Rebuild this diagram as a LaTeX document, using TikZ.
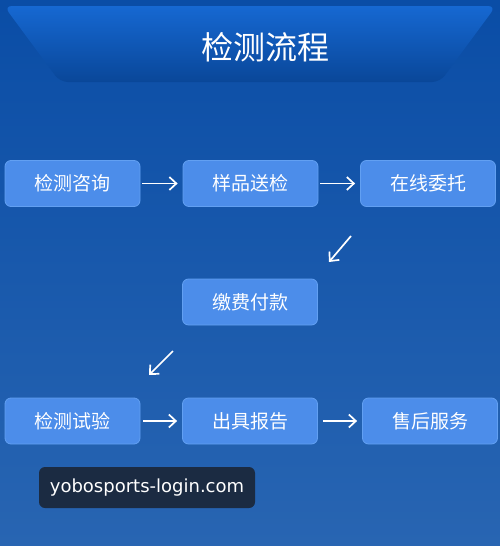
\documentclass[tikz,border=0pt]{standalone}
\usepackage{fontspec}
\setmainfont{Noto Sans CJK SC}
\newfontfamily\urlfont{DejaVu Sans}
\usetikzlibrary{arrows.meta}
\definecolor{bgtop}{HTML}{0A4DA6}
\definecolor{bgbot}{HTML}{2865B2}
\definecolor{bannertop}{HTML}{1668D2}
\definecolor{boxfill}{HTML}{4C8DEA}
\definecolor{boxline}{HTML}{62A0F2}
\definecolor{tagfill}{HTML}{1B2B42}
\tikzset{
    stepbox/.style={draw=boxline, fill=boxfill, line width=0.8pt, rounded corners=6pt,
        minimum width=135pt, minimum height=46pt, text=white,
        font=\fontsize{19}{21}\selectfont},
    flow/.style={draw=white, line width=1.7pt, -{Straight Barb[length=7pt,width=13pt]}}
}
\begin{document}
\begin{tikzpicture}[x=1pt, y=-1pt]
    % background
    \shade[top color=bgtop, bottom color=bgbot] (0, 0) rectangle (500, 546);
    \useasboundingbox (0, 0) rectangle (500, 546);
    % title banner
    \shade[top color=bannertop, bottom color=bgtop!92!black, rounded corners=8pt]
        (4, 6) -- (496, 6) -- (440, 82) -- (60, 82) -- cycle;
    \node[text=white, font=\fontsize{32}{35}\selectfont] (title) at (265, 47) {检测流程};
    % row 1
    \node[stepbox] (zixun) at (72.5, 183.5) {检测咨询};
    \node[stepbox] (songjian) at (250.5, 183.5) {样品送检};
    \node[stepbox] (weituo) at (428, 183.5) {在线委托};
    % row 2
    \node[stepbox] (fukuan) at (250, 302) {缴费付款};
    % row 3
    \node[stepbox] (shiyan) at (72.5, 421) {检测试验};
    \node[stepbox] (baogao) at (250, 421) {出具报告};
    \node[stepbox] (fuwu) at (430, 421) {售后服务};
    % connectors
    \draw[flow, shorten <=2pt, shorten >=5pt] (zixun) -- (songjian);
    \draw[flow, shorten <=2pt, shorten >=5pt] (songjian) -- (weituo);
    \draw[flow, shorten <=3pt, shorten >=5pt] (shiyan) -- (baogao);
    \draw[flow, shorten <=5pt, shorten >=5pt] (baogao) -- (fuwu);
    \coordinate (d1a) at (351, 236);
    \coordinate (d1b) at (329, 262);
    \coordinate (d2a) at (173, 351);
    \coordinate (d2b) at (149, 375);
    \draw[flow] (d1a) -- (d1b);
    \draw[flow] (d2a) -- (d2b);
    % watermark
    \node[fill=tagfill, rounded corners=6pt, text=white, minimum width=216pt,
        minimum height=41pt, font=\urlfont\fontsize{18}{20}\selectfont] (tag) at (147, 487.5) {yobosports-login.com};
\end{tikzpicture}
\end{document}
